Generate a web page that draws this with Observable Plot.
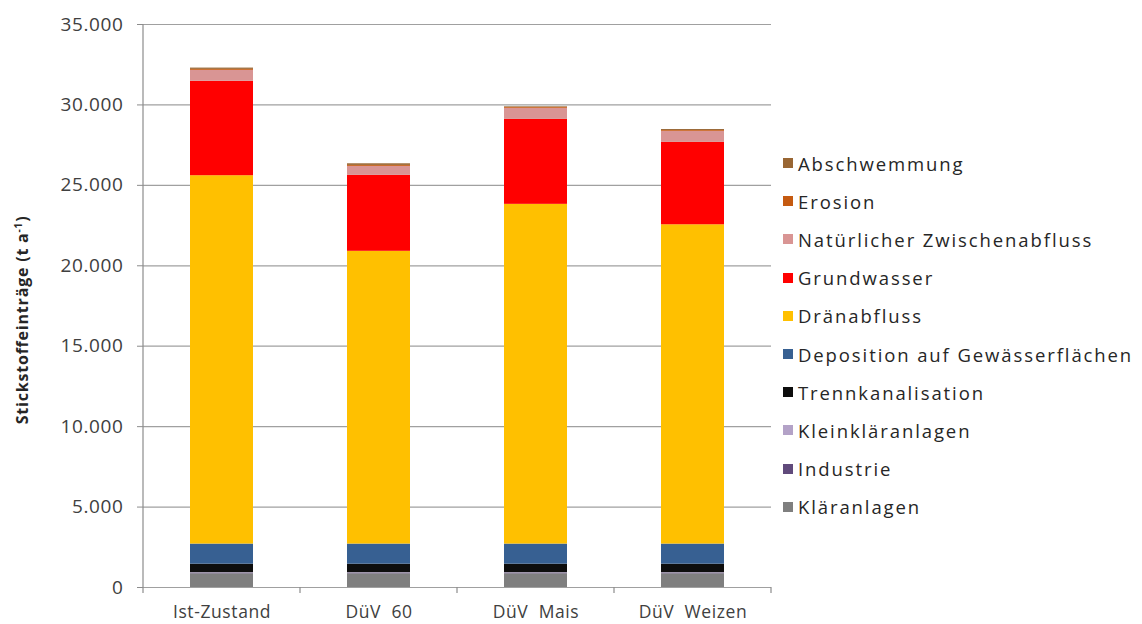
<!DOCTYPE html>
<html><head><meta charset="utf-8">
<script src="https://cdn.jsdelivr.net/npm/d3@7"></script>
<script src="https://cdn.jsdelivr.net/npm/@observablehq/plot@0.6"></script>
<style>
body{margin:0;background:#fff;font-family:"Open Sans",sans-serif;}
#wrap{position:relative;width:1142px;height:624px;overflow:hidden;}
#chart{position:absolute;left:0;top:0;}
#chart svg text{white-space:pre;}
#chart svg g[aria-label="y-axis tick label"] text{font-size:19px;letter-spacing:0.6px;}
#chart svg g[aria-label="x-axis tick label"] text{font-size:17.5px;letter-spacing:0.6px;}
#ylabel{position:absolute;left:22px;top:320px;transform:translate(-50%,-50%) rotate(-90deg);font-weight:bold;font-size:16px;letter-spacing:0.8px;white-space:nowrap;color:#262626;}
#ylabel sup{font-size:10px;}
#legend{position:absolute;left:783px;top:144px;font-size:18.5px;letter-spacing:1.9px;color:#262626;}
.row{height:38.2px;display:flex;align-items:center;white-space:nowrap;}
.sw{width:10px;height:10px;margin-right:5px;flex:none;}
</style>
</head><body>
<div id="wrap"><div id="chart"></div><div id="ylabel">Stickstoffeinträge (t a<sup>-1</sup>)</div><div id="legend"></div></div>
<script>
const scenarios = ["Ist-Zustand", "DüV  60", "DüV  Mais", "DüV  Weizen"];
const sources = ["Kläranlagen", "Industrie", "Kleinkläranlagen", "Trennkanalisation", "Deposition auf Gewässerflächen", "Dränabfluss", "Grundwasser", "Natürlicher Zwischenabfluss", "Erosion", "Abschwemmung"];
const colors = ["#7f7f7f", "#604a7b", "#b3a2c7", "#0d0d0d", "#376092", "#ffc000", "#ff0000", "#d99594", "#c55a11", "#996633"];

const klaeranlagen      = [850, 850, 850, 850];
const industrie         = [30, 30, 30, 30];
const kleinklaeranlagen = [40, 40, 40, 40];
const trennkanalisation = [530, 530, 530, 530];
const deposition        = [1250, 1250, 1250, 1250];
const draenabfluss      = [22900, 18200, 21120, 19850];
const grundwasser       = [5870, 4720, 5280, 5120];
const zwischenabfluss   = [680, 560, 690, 690];
const erosion           = [60, 60, 50, 50];
const abschwemmung      = [80, 100, 40, 60];

const yTicks = [0, 5000, 10000, 15000, 20000, 25000, 30000, 35000];

const seriesValues = [klaeranlagen, industrie, kleinklaeranlagen, trennkanalisation, deposition, draenabfluss, grundwasser, zwischenabfluss, erosion, abschwemmung];
const table = [];
sources.forEach((s, i) => scenarios.forEach((c, j) => table.push({scenario: c, source: s, value: seriesValues[i][j]})));

const fmt = d3.formatLocale({decimal: ",", thousands: ".", grouping: [3], currency: ["", "€"]}).format(",");

const W = 780;
const chart = Plot.plot({
  width: W, height: 624,
  marginLeft: 143, marginRight: 9, marginTop: 24, marginBottom: 37,
  style: {fontFamily: "'Open Sans', sans-serif", fontSize: "17px", color: "#404040", background: "#fff"},
  x: {domain: scenarios, paddingInner: 0.6, paddingOuter: 0.3, label: null},
  y: {domain: [0, 35000], label: null},
  color: {domain: sources, range: colors},
  marks: [
    Plot.ruleY(yTicks, {y: d => d, stroke: "#a0a0a0", strokeWidth: 1.2}),
    Plot.barY(table, {x: "scenario", y: "value", fill: "source", order: sources}),
    Plot.axisY({ticks: yTicks, tickFormat: fmt, tickSize: 6, tickPadding: 14, stroke: "#8c8c8c", fill: "#404040", label: null}),
    Plot.axisX({tickSize: 0, tickPadding: 18, fill: "#404040", label: null}),
    (index, scales, values, dims) => {
      const x = scales.x, y = scales.y;
      const bw = x.bandwidth();
      const step = x.step();
      const g = d3.create("svg:g").attr("stroke", "#8c8c8c").attr("stroke-width", 1.2);
      const y0 = y(0), yTop = y(35000);
      g.append("line").attr("x1", dims.marginLeft).attr("x2", dims.marginLeft).attr("y1", yTop).attr("y2", y0);
      const bounds = scenarios.map(c => x(c) - (step - bw) / 2);
      bounds.push(x(scenarios[scenarios.length - 1]) + bw + (step - bw) / 2);
      bounds.forEach(b => g.append("line").attr("x1", b).attr("x2", b).attr("y1", y0).attr("y2", y0 + 6));
      return g.node();
    }
  ]
});
document.getElementById("chart").appendChild(chart);

const legend = document.getElementById("legend");
sources.slice().reverse().forEach(s => {
  const row = document.createElement("div");
  row.className = "row";
  const sw = document.createElement("span");
  sw.className = "sw";
  sw.style.background = colors[sources.indexOf(s)];
  const t = document.createElement("span");
  t.textContent = s;
  row.appendChild(sw); row.appendChild(t);
  legend.appendChild(row);
});
</script>
</body></html>
